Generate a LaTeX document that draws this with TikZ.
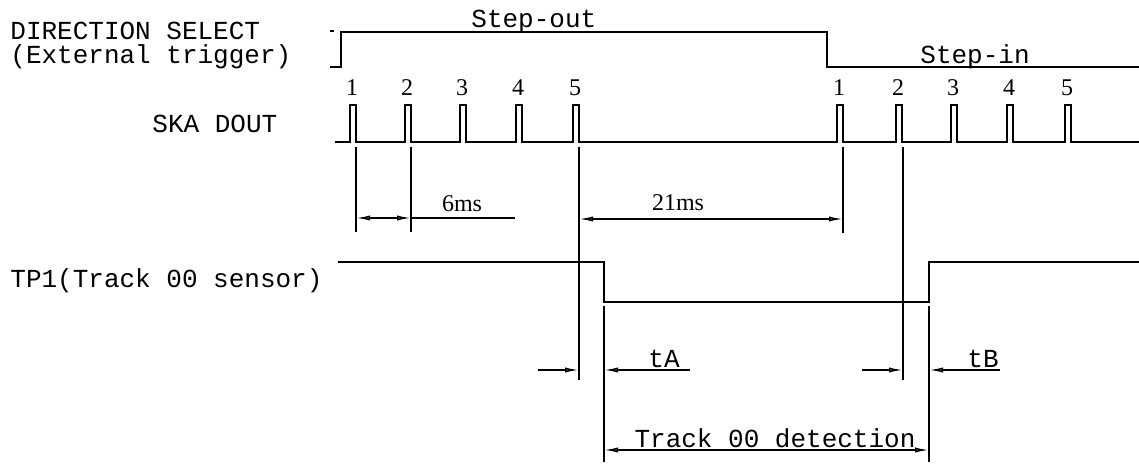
\documentclass[tikz,border=0pt]{standalone}
\usepackage{fontspec}
\setmainfont{Liberation Serif}
\setmonofont{Liberation Mono}
\usetikzlibrary{arrows.meta}
\begin{document}
\begin{tikzpicture}[x=0.5pt,y=-0.5pt,
  sig/.style={line width=1pt},
  dim/.style={line width=0.8pt},
  tipped/.style={-{Latex[open,length=7pt,width=2.6pt]}},
  both/.style={{Latex[open,length=7pt,width=2.6pt]}-{Latex[open,length=7pt,width=2.6pt]}},
  lab/.style={font=\fontsize{13}{12}\selectfont\ttfamily, inner sep=0},
  num/.style={font=\fontsize{12}{14}\selectfont\rmfamily, inner sep=0}]
\useasboundingbox (0,0) rectangle (1139,466);
% labels
\node[lab,anchor=base west,align=left] (dirsel) at (10,63) {DIRECTION SELECT\\(External trigger)};
\node[lab,anchor=base west] (ska) at (152,132) {SKA DOUT};
\node[lab,anchor=base west] (tp) at (10,287) {TP1(Track 00 sensor)};
\node[lab,anchor=base west] (sout) at (471,27) {Step-out};
\node[lab,anchor=base west] (sin) at (920,63) {Step-in};
% direction select
\draw[sig] (330,31) -- (334,31);
\draw[sig] (330,67) -- (341,67) -- (341,32) -- (827,32) -- (827,67) -- (1139,67);
% SKA DOUT pulses
\draw[sig] (335,142)
  foreach \f in {356,411,466,522,579,843,902,957,1013,1071} {
    -- ({\f-6},142) -- ({\f-6},105) -- (\f,105) -- (\f,142) }
  -- (1139,142);
\foreach \f/\n [count=\i] in {356/1,411/2,466/3,522/4,579/5,843/1,902/2,957/3,1013/4,1071/5}
  \node[num,anchor=base] (n\i) at ({\f-4},95) {\n};
% TP1
\draw[sig] (338,262) -- (604,262) -- (604,302) -- (929,302) -- (929,262) -- (1139,262);
% extension lines
\coordinate (a1) at (356,147); \coordinate (a1e) at (356,232);
\coordinate (a2) at (411,147); \coordinate (a2e) at (411,232);
\coordinate (a5) at (579,147); \coordinate (a5e) at (579,380);
\coordinate (b1) at (843,147); \coordinate (b1e) at (843,233);
\coordinate (b2) at (903,147); \coordinate (b2e) at (903,380);
\coordinate (ff) at (604,306); \coordinate (ffe) at (604,462);
\coordinate (rr) at (929,306); \coordinate (rre) at (929,462);
\draw[dim] (a1) -- (a1e) (a2) -- (a2e) (a5) -- (a5e) (b1) -- (b1e)
  (b2) -- (b2e) (ff) -- (ffe) (rr) -- (rre);
% 6ms
\coordinate (d6a) at (356,218); \coordinate (d6b) at (411,218); \coordinate (d6c) at (515,218);
\draw[dim,both] (d6a) -- (d6b);
\draw[dim] (d6b) -- (d6c);
\node[num,anchor=base] (t6) at (462,211) {6ms};
% 21ms
\coordinate (d21a) at (579,219); \coordinate (d21b) at (843,219);
\draw[dim,both] (d21a) -- (d21b);
\node[num,anchor=base] (t21) at (678,210) {21ms};
% tA
\coordinate (tAl) at (538,370); \coordinate (tAa) at (579,370);
\coordinate (tAb) at (604,370); \coordinate (tAr) at (690,370);
\draw[dim,tipped] (tAl) -- (tAa);
\draw[dim,tipped] (tAr) -- (tAb);
\node[lab,anchor=base west] (ta) at (648,367) {tA};
% tB
\coordinate (tBl) at (862,370); \coordinate (tBa) at (903,370);
\coordinate (tBb) at (929,370); \coordinate (tBr) at (1000,370);
\draw[dim,tipped] (tBl) -- (tBa);
\draw[dim,tipped] (tBr) -- (tBb);
\node[lab,anchor=base west] (tb) at (967,367) {tB};
% Track 00 detection
\coordinate (tda) at (604,450); \coordinate (tdb) at (929,450);
\draw[dim,both] (tda) -- (tdb);
\node[lab,anchor=base] (td) at (775,447) {Track 00 detection};
\end{tikzpicture}
\end{document}
